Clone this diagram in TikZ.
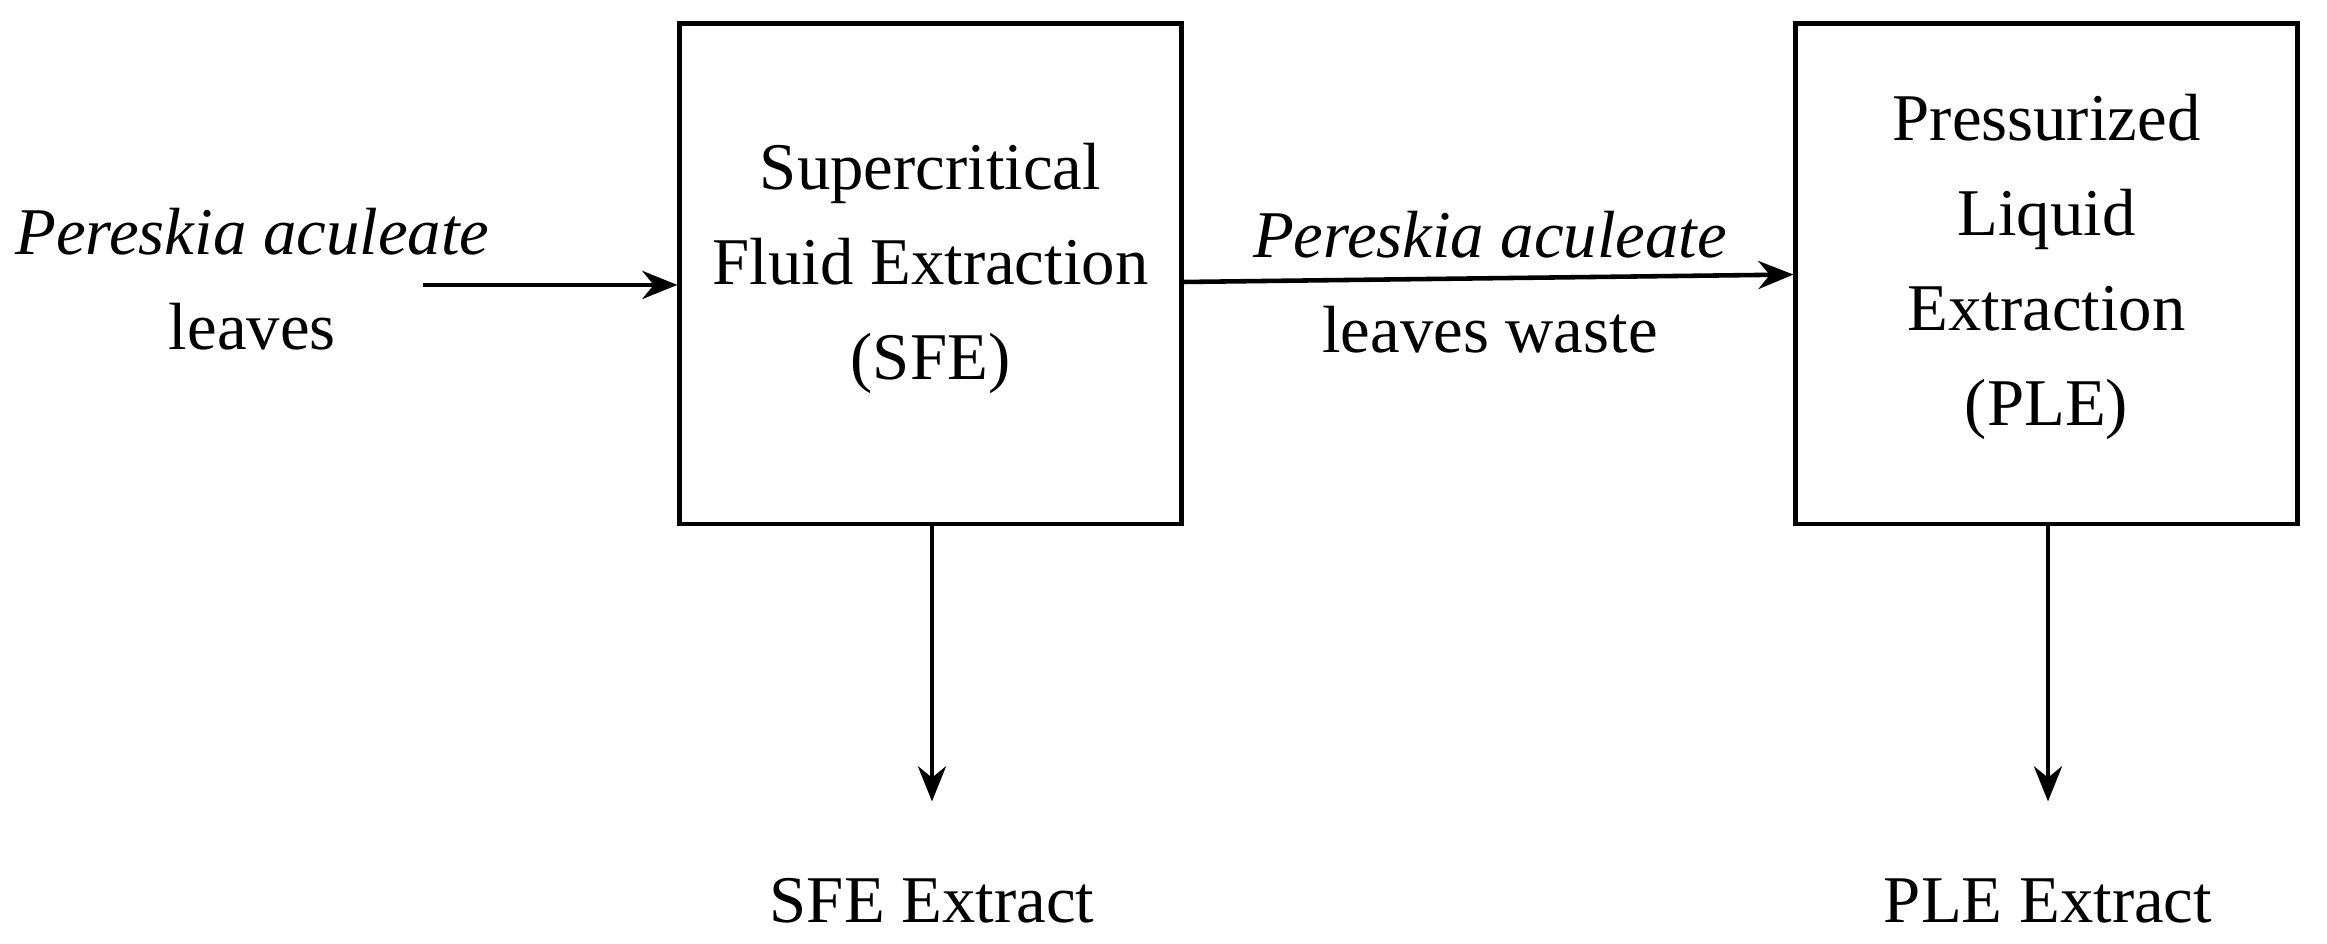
\documentclass[tikz,border=0pt]{standalone}
\usepackage{fontspec}
\setmainfont{Liberation Serif}
\usetikzlibrary{arrows.meta}
\begin{document}
\begin{tikzpicture}[x=0.01484cm,y=-0.01484cm,
  box/.style={draw,line width=1.3pt,minimum width=338*0.01484cm,minimum height=337*0.01484cm,inner sep=0pt},
  lbl/.style={font=\fontsize{19pt}{27pt}\selectfont,align=center},
  arr/.style={line width=1.3pt,-{Stealth[length=10pt,width=8pt]}}]
\useasboundingbox (0,0) rectangle (1568,636);
\node[box] (sfe) at (627,184.5) {};
\node[box] (ple) at (1379,184.5) {};
\node[lbl] (sfet) at (627,181) {Supercritical\\Fluid Extraction\\(SFE)};
\node[lbl] (plet) at (1379,180) {Pressurized\\Liquid\\Extraction\\(PLE)};
\node[lbl] (in) at (170,188) {\textit{Pereskia aculeate}\\leaves};
\node[lbl] (mid) at (1004,190) {\textit{Pereskia aculeate}\\leaves waste};
\node[lbl] (se) at (628,607) {SFE Extract};
\node[lbl] (pe) at (1380,607) {PLE Extract};
\coordinate (a0) at (285,192);
\coordinate (s1) at (628,540);
\coordinate (p1) at (1380,540);
\draw[arr] (a0) -- (sfe.west|-a0);
\draw[arr] (sfe.east|-0,190) -- (ple.west|-0,185);
\draw[arr] (sfe.south-|s1) -- (s1);
\draw[arr] (ple.south-|p1) -- (p1);
\end{tikzpicture}
\end{document}
